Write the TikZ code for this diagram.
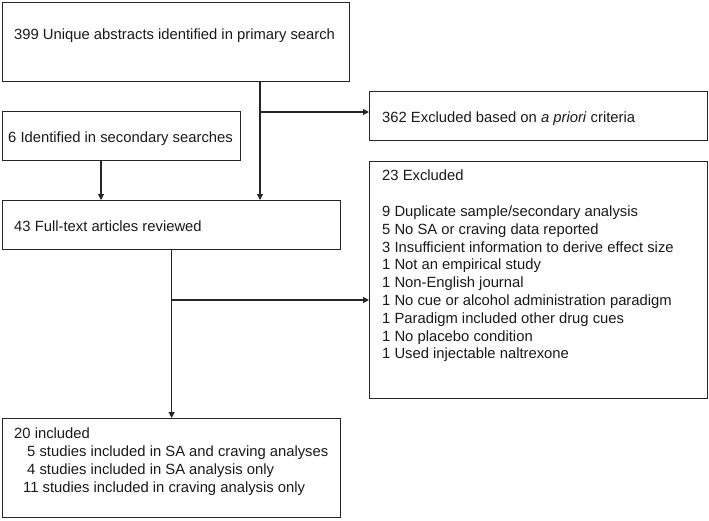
\documentclass[tikz,border=0pt]{standalone}
\usepackage{fontspec}
\setmainfont{Liberation Sans}
\usetikzlibrary{arrows.meta,calc}
\begin{document}
\begin{tikzpicture}[x=1pt,y=-1pt,
  box/.style={draw=black!85,line width=1.3pt,rectangle,inner sep=0pt,anchor=north west},
  txt/.style={inner sep=0pt,anchor=base west,font=\fontsize{14.8}{18}\selectfont,text=black!90},
  arr/.style={draw=black!85,line width=1.1pt,-{Triangle[length=6pt,width=6pt]}}]
\useasboundingbox (0,0) rectangle (709,520);
% boxes
\node[box,minimum width=347pt,minimum height=79pt] (b1) at (2,2) {};
\node[box,minimum width=238pt,minimum height=49pt] (b6) at (2,111) {};
\node[box,minimum width=338pt,minimum height=49pt] (b43) at (2,200) {};
\node[box,minimum width=338pt,minimum height=49pt] (b362) at (369,91) {};
\node[box,minimum width=338pt,minimum height=237pt] (b23) at (369,161) {};
\node[box,minimum width=338pt,minimum height=99pt] (b20) at (2,418) {};
% texts
\node[txt] (t1) at (14,39.5) {399 Unique abstracts identified in primary search};
\node[txt] (t6) at (8,142) {6 Identified in secondary searches};
\node[txt] (t43) at (14,231) {43 Full-text articles reviewed};
\node[txt] (t362) at (382,122.3) {362 Excluded based on \textit{a priori} criteria};
\node[txt] (t23) at (382,180.5) {23 Excluded};
\foreach \t [count=\i from 0] in {9 Duplicate sample/secondary analysis,
  5 No SA or craving data reported,
  3 Insufficient information to derive effect size,
  1 Not an empirical study,
  1 Non-English journal,
  1 No cue or alcohol administration paradigm,
  1 Paradigm included other drug cues,
  1 No placebo condition,
  1 Used injectable naltrexone}
  \node[txt] (e\i) at (382,216.5+17.8*\i) {\t};
\node[txt] (t20) at (14,438.3) {20 included};
\node[txt] (t20a) at (27,456.3) {5 studies included in SA and craving analyses};
\node[txt] (t20b) at (27,474.3) {4 studies included in SA analysis only};
\node[txt] (t20c) at (23,492.3) {11 studies included in craving analysis only};
% connectors
\coordinate (c1) at (260,112);
\coordinate (c6) at (101,0);
\coordinate (c2) at (171,300);
\draw[arr] (b1.south -| c1) -- (b43.north -| c1);
\draw[arr] (c1) -- (b362.west |- c1);
\draw[arr] (b6.south -| c6) -- (b43.north -| c6);
\draw[arr] (b43.south) -- (b20.north);
\draw[arr] (c2) -- (b23.west |- c2);
\end{tikzpicture}
\end{document}
